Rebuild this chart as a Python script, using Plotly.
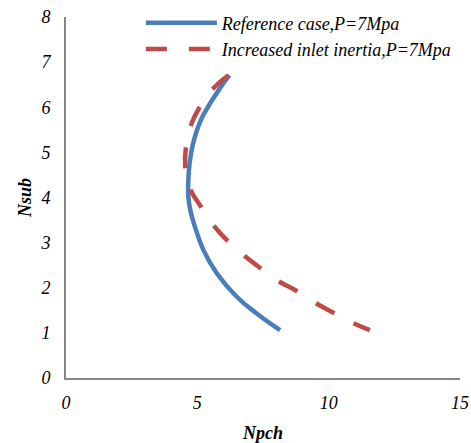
import plotly.graph_objects as go

ref_x = [6.22, 5.86, 5.45, 5.12, 4.90, 4.76, 4.68, 4.65, 4.66, 4.74, 4.91, 5.23, 5.74, 6.50, 7.26, 8.15]
ref_y = [6.71, 6.42, 6.05, 5.70, 5.33, 4.98, 4.61, 4.24, 4.00, 3.70, 3.35, 2.84, 2.32, 1.80, 1.43, 1.06]

inc_x = [6.18, 5.61, 5.10, 4.78, 4.57, 4.54, 4.72, 5.10, 5.61, 6.05, 6.75, 7.32, 8.02, 8.72, 9.42, 10.11, 10.81, 11.57]
inc_y = [6.71, 6.42, 6.01, 5.64, 5.13, 4.68, 4.20, 3.83, 3.39, 3.10, 2.73, 2.47, 2.17, 1.95, 1.69, 1.47, 1.25, 1.06]

x_ticks = [0, 5, 10, 15]
y_ticks = [0, 1, 2, 3, 4, 5, 6, 7, 8]

FONT = "Liberation Serif"

fig = go.Figure()
fig.add_trace(go.Scatter(x=ref_x, y=ref_y, mode="lines", name="Reference case,P=7Mpa",
                         line=dict(color="#4A7EBB", width=4.5, shape="spline", smoothing=1.3)))
fig.add_trace(go.Scatter(x=inc_x, y=inc_y, mode="lines", name="Increased inlet inertia,P=7Mpa",
                         line=dict(color="#BE4B48", width=4.5, shape="spline", smoothing=1.3,
                                   dash="21px,22px")))

fig.update_layout(
    width=471, height=443,
    margin=dict(l=66, r=11, t=17, b=65, autoexpand=False),
    paper_bgcolor="white", plot_bgcolor="white",
    font=dict(family=FONT, size=18, color="black"),
    showlegend=True,
    legend=dict(x=0.19, y=0.99, xanchor="left", yanchor="top", yref="container",
                bgcolor="rgba(0,0,0,0)", tracegroupgap=0,
                font=dict(family=FONT, size=18, style="italic"),
                itemwidth=71),
    xaxis=dict(range=[0, 15], tickvals=x_ticks, showgrid=False, zeroline=False,
               showline=True, linecolor="#868686", linewidth=2, ticks="",
               automargin=False, ticklabelstandoff=7,
               tickfont=dict(family=FONT, size=18, style="italic"),
               title=dict(text="Npch", font=dict(family=FONT, size=18, style="italic", weight="bold"),
                          standoff=15)),
    yaxis=dict(range=[0, 8], tickvals=y_ticks, showgrid=False, zeroline=False,
               showline=True, linecolor="#868686", linewidth=2, ticks="",
               automargin=False, ticklabelstandoff=10,
               tickfont=dict(family=FONT, size=18, style="italic"),
               title=dict(text="Nsub", font=dict(family=FONT, size=18, style="italic", weight="bold"),
                          standoff=4)),
)

fig.write_html("out.html")
